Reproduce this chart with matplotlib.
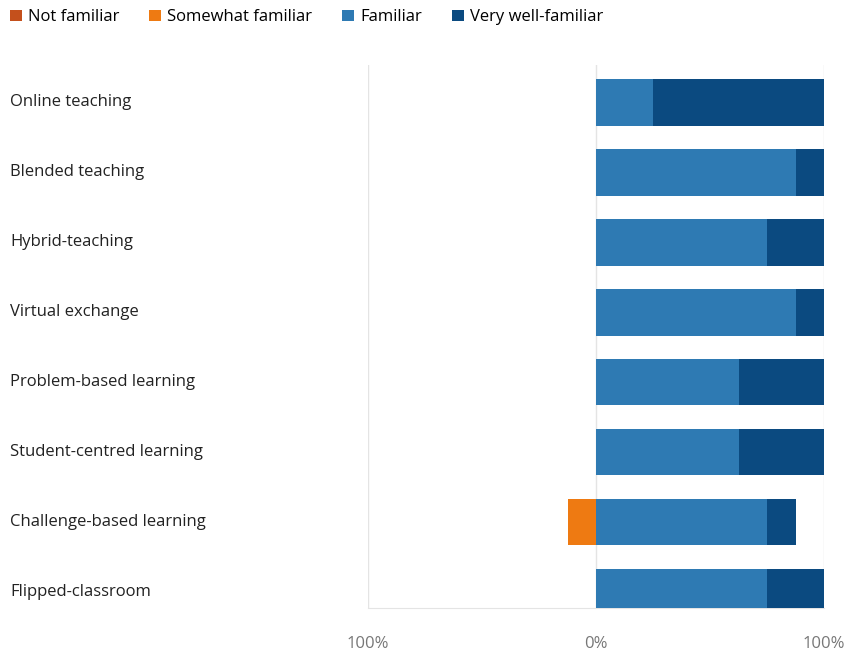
import matplotlib.pyplot as plt
from matplotlib import transforms
from matplotlib.patches import Patch

plt.rcParams['font.family'] = ['Open Sans', 'DejaVu Sans']

categories = ['Online teaching', 'Blended teaching', 'Hybrid-teaching', 'Virtual exchange',
              'Problem-based learning', 'Student-centred learning', 'Challenge-based learning',
              'Flipped-classroom']
not_familiar = [0, 0, 0, 0, 0, 0, 0, 0]
somewhat = [0, 0, 0, 0, 0, 0, 12.5, 0]
familiar = [25, 87.5, 75, 87.5, 62.5, 62.5, 75, 75]
very_well = [75, 12.5, 25, 12.5, 37.5, 37.5, 12.5, 25]

series_names = ['Not familiar', 'Somewhat familiar', 'Familiar', 'Very well-familiar']
colors = ['#C4501C', '#EE7A12', '#2E7AB3', '#0B4A80']

fig = plt.figure(figsize=(8.46, 6.51), dpi=100)
ax = fig.add_axes([0.435, 0.066, 0.539, 0.834])

ypos = list(range(len(categories)))
h = 0.67

# negative side: somewhat familiar next to zero, then not familiar further out
ax.barh(ypos, [-v for v in somewhat], height=h, color=colors[1], zorder=3)
ax.barh(ypos, [-v for v in not_familiar], left=[-v for v in somewhat], height=h,
        color=colors[0], zorder=3)
# positive side
ax.barh(ypos, familiar, height=h, color=colors[2], zorder=3)
ax.barh(ypos, very_well, left=familiar, height=h, color=colors[3], zorder=3)

ax.set_xlim(-100, 100)
ax.set_ylim(7.23, -0.53)
ax.set_xticks([-100, 0, 100])
ax.set_xticklabels(['100%', '0%', '100%'], color='#777777', fontsize=12)
ax.set_yticks([])
for x in [-100, 0, 100]:
    ax.axvline(x, color='#E4E4E4', lw=1, zorder=1)
for s in ['top', 'left', 'right']:
    ax.spines[s].set_visible(False)
ax.spines['bottom'].set_color('#E4E4E4')
ax.tick_params(axis='x', length=0, pad=20)

trans = transforms.blended_transform_factory(fig.transFigure, ax.transData)
for y, name in zip(ypos, categories):
    ax.text(10 / 846, y, name, transform=trans, ha='left', va='center',
            fontsize=12, color='#222222')

handles = [Patch(facecolor=c, edgecolor='none') for c in colors]
fig.legend(handles, series_names, loc='upper left', bbox_to_anchor=(0.004, 0.996), ncol=4,
           frameon=False, fontsize=12, handlelength=0.72, handleheight=0.72,
           handletextpad=0.36, columnspacing=1.8, borderaxespad=0)

fig.savefig('out.png', dpi=100)
